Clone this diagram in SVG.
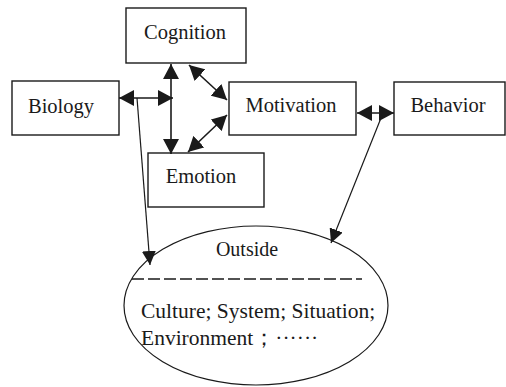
<svg xmlns="http://www.w3.org/2000/svg" width="506" height="387" viewBox="0 0 506 387">
  <style>
    .box { fill: #fff; stroke: #1a1a1a; stroke-width: 1.4; }
    .lbl { font-family: "Liberation Serif", "Times New Roman", serif; font-size: 20.5px; fill: #1a1a1a; }
    .txt { font-family: "Liberation Serif", "Times New Roman", serif; font-size: 21.5px; fill: #1a1a1a; }
    .arr { stroke: #1a1a1a; stroke-width: 1.6; fill: none; }
    .thin { stroke: #1a1a1a; stroke-width: 1.2; fill: none; }
  </style>
  <defs>
    <marker id="head" viewBox="0 0 15 16" refX="15" refY="8" markerWidth="15" markerHeight="16" markerUnits="userSpaceOnUse" orient="auto-start-reverse">
      <path d="M0,0 L15,8 L0,16 Z" fill="#1a1a1a"/>
    </marker>
    <marker id="head2" viewBox="0 0 14 14" refX="14" refY="7" markerWidth="14" markerHeight="14" markerUnits="userSpaceOnUse" orient="auto">
      <path d="M0,0 L14,7 L0,14 Z" fill="#1a1a1a"/>
    </marker>
  </defs>

  <g id="cognition">
    <rect class="box" x="126" y="8" width="120" height="55"/>
    <text class="lbl" x="185" y="39" text-anchor="middle">Cognition</text>
  </g>
  <g id="biology">
    <rect class="box" x="12" y="81" width="107" height="54"/>
    <text class="lbl" x="61" y="113" text-anchor="middle">Biology</text>
  </g>
  <g id="motivation">
    <rect class="box" x="229" y="82" width="127" height="53"/>
    <text class="lbl" x="291" y="112" text-anchor="middle">Motivation</text>
  </g>
  <g id="behavior">
    <rect class="box" x="394" y="82" width="111" height="53"/>
    <text class="lbl" x="448" y="112" text-anchor="middle">Behavior</text>
  </g>
  <g id="emotion">
    <rect class="box" x="148" y="153" width="116" height="54"/>
    <text class="lbl" x="201" y="183" text-anchor="middle">Emotion</text>
  </g>
  <g id="outside">
    <ellipse class="thin" cx="256" cy="305.5" rx="132" ry="79.5" fill="#fff"/>
    <text class="txt" x="247" y="256" text-anchor="middle" style="font-size:20px">Outside</text>
    <line x1="132" y1="279" x2="362" y2="279" stroke="#1a1a1a" stroke-width="1.3" stroke-dasharray="12,4"/>
    <text class="txt" x="141" y="318">Culture; System; Situation;</text>
    <text class="txt" x="141" y="345">Environment；······</text>
  </g>

  <g id="connectors">
    <!-- Biology <-> Cognition/Emotion axis -->
    <line class="arr" x1="119" y1="98" x2="173" y2="98" marker-start="url(#head)" marker-end="url(#head)"/>
    <!-- Cognition <-> Emotion -->
    <line class="arr" x1="171" y1="64" x2="171" y2="154" marker-start="url(#head)" marker-end="url(#head)"/>
    <!-- Cognition <-> Motivation -->
    <line class="arr" x1="189" y1="65" x2="227" y2="100" marker-start="url(#head)" marker-end="url(#head)"/>
    <!-- Emotion <-> Motivation -->
    <line class="arr" x1="188" y1="152" x2="227" y2="115" marker-start="url(#head)" marker-end="url(#head)"/>
    <!-- Motivation <-> Behavior -->
    <line class="arr" x1="357" y1="113" x2="394" y2="113" marker-start="url(#head)" marker-end="url(#head)"/>
    <!-- links down to the outside world -->
    <line class="thin" x1="137" y1="98" x2="150" y2="265" marker-end="url(#head2)"/>
    <line class="thin" x1="383" y1="113" x2="331" y2="243" marker-end="url(#head2)"/>
  </g>
</svg>
